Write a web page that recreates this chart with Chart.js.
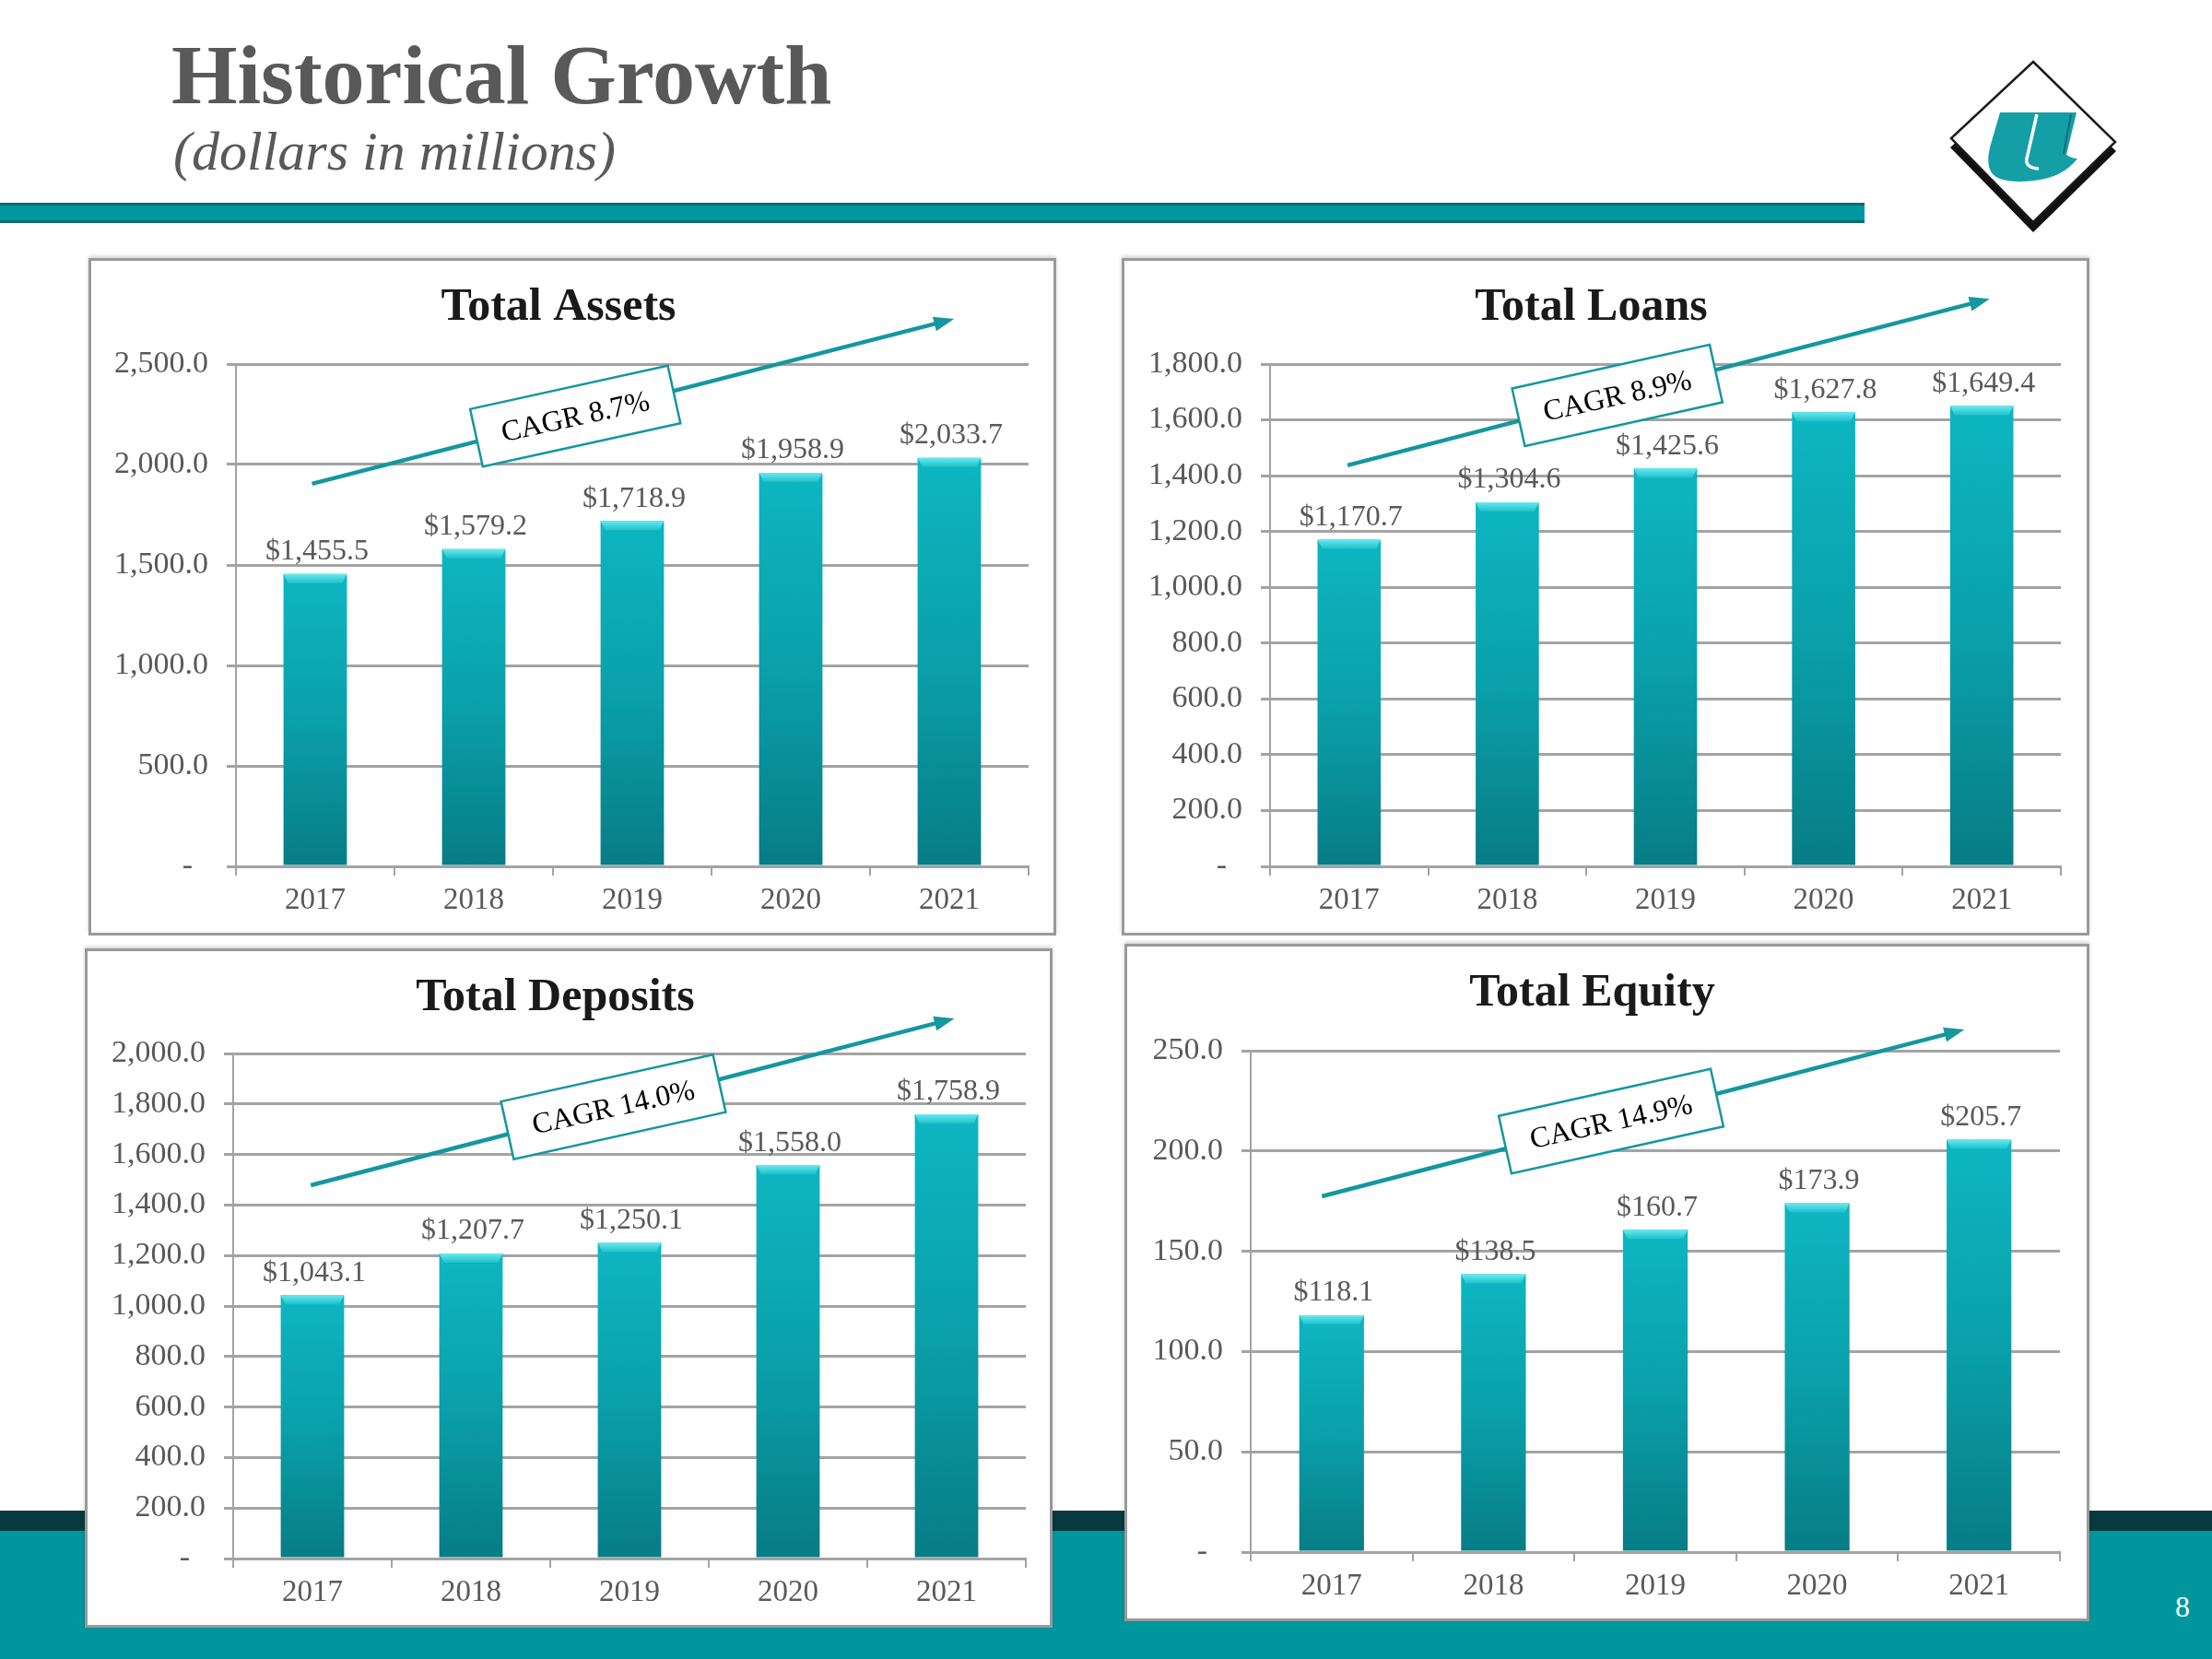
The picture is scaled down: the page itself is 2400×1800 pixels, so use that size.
<!DOCTYPE html>
<html>
<head>
<meta charset="utf-8">
<script src="https://cdn.jsdelivr.net/npm/chart.js@4.4.0/dist/chart.umd.min.js"></script>
<style>
    html, body { margin: 0; padding: 0; background: #fff; }
    body { width: 2400px; height: 1800px; position: relative; overflow: hidden; font-family: "Liberation Serif", "Times New Roman", serif; }
    .head { position: absolute; left: 186px; top: 35px; font-size: 92px; line-height: 92px; font-weight: bold; color: #595959; white-space: nowrap; }
    .sub { position: absolute; left: 188px; top: 134px; font-size: 60px; line-height: 60px; font-style: italic; color: #595959; white-space: nowrap; }
    .rule { position: absolute; left: 0; top: 220px; width: 2023px; height: 16px; background: #00979f; border-top: 3px solid #0a6d73; border-bottom: 3px solid #0a6d73; }
    .band-dark { position: absolute; left: 0; top: 1639px; width: 2400px; height: 22px; background: #063a3e; }
    .band { position: absolute; left: 0; top: 1661px; width: 2400px; height: 139px; background: #00969e; }
    .pagenum { position: absolute; left: 2360px; top: 1727px; font-size: 32px; line-height: 32px; color: #fff; }
    .panel { position: absolute; background: #fff; box-shadow: inset 0 0 0 3px #9a9a9a, 0 -2px 4px rgba(0,0,0,0.18); }
    .panel canvas { position: absolute; left: 0; top: 0; }
    .logo { position: absolute; left: 2100px; top: 50px; }
</style>
</head>
<body>
<div class="head">Historical Growth</div>
<div class="sub">(dollars in millions)</div>
<div class="rule"></div>
<svg class="logo" width="220" height="220" viewBox="0 0 220 220">
    <polygon points="106,28 196,114 106,202 16,110" fill="#111"/>
    <polygon points="106,17 195,104 106,191 17,100" fill="#fff" stroke="#1a1a1a" stroke-width="2.5"/>
    <path d="M70 72 L153 72 L142 118 Q148 122 154 122 Q138 143 106 146 Q68 150 60 136 Q55 126 59 110 Z" fill="#149ea6"/>
    <path d="M110 74 L99 122 Q97 132 112 133" fill="none" stroke="#fff" stroke-width="3.5"/>
    <path d="M147 74 L139 117" fill="none" stroke="#0d6f75" stroke-width="2"/>
</svg>
<div class="band-dark"></div>
<div class="band"></div>
<div class="pagenum">8</div>

<div class="panel" style="left:96px;top:280px;width:1050px;height:735px"><canvas id="assetsChart"></canvas></div>
<div class="panel" style="left:1217px;top:280px;width:1050px;height:735px"><canvas id="loansChart"></canvas></div>
<div class="panel" style="left:92px;top:1029px;width:1050px;height:737px"><canvas id="depositsChart"></canvas></div>
<div class="panel" style="left:1220px;top:1024px;width:1047px;height:735px"><canvas id="equityChart"></canvas></div>

<script>
// values (dollars in millions)
const years = ['2017', '2018', '2019', '2020', '2021'];
const assets = [1455.5, 1579.2, 1718.9, 1958.9, 2033.7];
const loans = [1170.7, 1304.6, 1425.6, 1627.8, 1649.4];
const deposits = [1043.1, 1207.7, 1250.1, 1558.0, 1758.9];
const equity = [118.1, 138.5, 160.7, 173.9, 205.7];

const chartTitles = ['Total Assets', 'Total Loans', 'Total Deposits', 'Total Equity'];
const cagrLabels = ['CAGR 8.7%', 'CAGR 8.9%', 'CAGR 14.0%', 'CAGR 14.9%'];
const axisMax = [2500, 1800, 2000, 250];
const axisStep = [500, 200, 200, 50];

const FONT = '"Liberation Serif", "Times New Roman", serif';
const labelColor = '#595959';
const gridColor = '#a3a3a3';
const teal = '#14979f';

// plot-area placement inside each panel and the CAGR arrow (in axis units)
const layouts = [
    { id: 'assetsChart', w: 1050, h: 735, left: 160, right: 30, top: 115, arrow: [-0.02, 1904, 4.03, 2725, 0.41] },
    { id: 'loansChart', w: 1050, h: 735, left: 161, right: 31, top: 115, arrow: [-0.01, 1437, 4.05, 2034, 0.42] },
    { id: 'depositsChart', w: 1050, h: 737, left: 161, right: 29, top: 114, arrow: [-0.01, 1478, 4.05, 2139, 0.47] },
    { id: 'equityChart', w: 1047, h: 735, left: 137, right: 32, top: 116, arrow: [-0.06, 177.4, 3.91, 260.6, 0.45] }
];
const seriesList = [assets, loans, deposits, equity];

const fmtAxis = v => v === 0 ? '-  ' : v.toLocaleString('en-US', { minimumFractionDigits: 1, maximumFractionDigits: 1 });
const fmtMoney = v => '$' + v.toLocaleString('en-US', { minimumFractionDigits: 1, maximumFractionDigits: 1 });

const barExtras = {
    id: 'barExtras',
    afterDatasetsDraw(chart, args, opts) {
        const { ctx, scales: { x, y } } = chart;
        const meta = chart.getDatasetMeta(0);
        ctx.save();
        meta.data.forEach((bar, i) => {
            const half = bar.width / 2;
            // light bevel on bar top
            const g = ctx.createLinearGradient(0, bar.y, 0, bar.y + 10);
            g.addColorStop(0, '#6ae9f0');
            g.addColorStop(1, '#1cc0ca');
            ctx.fillStyle = g;
            ctx.beginPath();
            ctx.moveTo(bar.x - half, bar.y);
            ctx.lineTo(bar.x + half, bar.y);
            ctx.lineTo(bar.x + half - 5, bar.y + 10);
            ctx.lineTo(bar.x - half + 5, bar.y + 10);
            ctx.closePath();
            ctx.fill();
            // value label
            ctx.fillStyle = labelColor;
            ctx.font = '32px ' + FONT;
            ctx.textAlign = 'center';
            ctx.textBaseline = 'bottom';
            ctx.fillText(fmtMoney(chart.data.datasets[0].data[i]), bar.x + 2, bar.y - 8);
        });

        // CAGR arrow with rotated label box
        const [x0, y0, x1, y1, t] = opts.arrow;
        const p0 = { x: x.getPixelForValue(x0), y: y.getPixelForValue(y0) };
        const p1 = { x: x.getPixelForValue(x1), y: y.getPixelForValue(y1) };
        const ang = Math.atan2(p1.y - p0.y, p1.x - p0.x);
        const head = 22;
        ctx.strokeStyle = teal;
        ctx.fillStyle = teal;
        ctx.lineWidth = 4.5;
        ctx.beginPath();
        ctx.moveTo(p0.x, p0.y);
        ctx.lineTo(p1.x - Math.cos(ang) * head * 0.8, p1.y - Math.sin(ang) * head * 0.8);
        ctx.stroke();
        ctx.beginPath();
        ctx.moveTo(p1.x, p1.y);
        ctx.lineTo(p1.x - head * Math.cos(ang) + 8 * Math.sin(ang), p1.y - head * Math.sin(ang) - 8 * Math.cos(ang));
        ctx.lineTo(p1.x - head * Math.cos(ang) - 8 * Math.sin(ang), p1.y - head * Math.sin(ang) + 8 * Math.cos(ang));
        ctx.closePath();
        ctx.fill();

        const cx = p0.x + (p1.x - p0.x) * t;
        const cy = p0.y + (p1.y - p0.y) * t;
        ctx.translate(cx, cy);
        ctx.rotate(ang * 0.86);
        ctx.font = '32px ' + FONT;
        const bw = ctx.measureText(opts.label).width + 56;
        const bh = 64;
        ctx.fillStyle = '#fff';
        ctx.fillRect(-bw / 2, -bh / 2, bw, bh);
        ctx.lineWidth = 2.5;
        ctx.strokeStyle = teal;
        ctx.strokeRect(-bw / 2, -bh / 2, bw, bh);
        ctx.fillStyle = '#000';
        ctx.textAlign = 'center';
        ctx.textBaseline = 'middle';
        ctx.fillText(opts.label, 0, 2);
        ctx.restore();
    }
};

function barFill(context) {
    const chart = context.chart;
    const area = chart.chartArea;
    if (!area) return '#0aa6b1';
    const top = chart.scales.y.getPixelForValue(context.raw);
    const g = chart.ctx.createLinearGradient(0, top, 0, area.bottom);
    g.addColorStop(0, '#0db6c2');
    g.addColorStop(0.5, '#0aa0aa');
    g.addColorStop(1, '#077c85');
    return g;
}

document.addEventListener('DOMContentLoaded', () => {
    layouts.forEach((lay, k) => {
        const canvas = document.getElementById(lay.id);
        canvas.width = lay.w;
        canvas.height = lay.h;
        new Chart(canvas, {
            type: 'bar',
            data: {
                labels: years,
                datasets: [{
                    data: seriesList[k],
                    backgroundColor: barFill,
                    borderWidth: 0,
                    barPercentage: 0.4,
                    categoryPercentage: 1.0
                }]
            },
            plugins: [barExtras],
            options: {
                responsive: false,
                animation: false,
                devicePixelRatio: 1,
                layout: { padding: { top: 24, right: lay.right, bottom: 0, left: 0 } },
                plugins: {
                    legend: { display: false },
                    tooltip: { enabled: false },
                    title: {
                        display: true,
                        text: chartTitles[k],
                        color: '#1a1a1a',
                        font: { family: FONT, size: 50, weight: 'bold', lineHeight: 1.2 },
                        padding: { top: 0, bottom: lay.top - 24 - 60 }
                    },
                    barExtras: { arrow: layouts[k].arrow, label: cagrLabels[k] }
                },
                scales: {
                    x: {
                        afterFit: s => { s.height = 75; },
                        grid: { display: true, drawOnChartArea: false, drawTicks: true, tickLength: 10, color: gridColor, lineWidth: 2 },
                        border: { display: true, color: gridColor, width: 3 },
                        ticks: { color: labelColor, font: { family: FONT, size: 33 }, padding: 8 }
                    },
                    y: {
                        min: 0,
                        max: axisMax[k],
                        afterFit: s => { s.width = lay.left; },
                        grid: { color: gridColor, lineWidth: 3, tickLength: 10 },
                        border: { display: true, color: gridColor, width: 2 },
                        ticks: {
                            stepSize: axisStep[k],
                            color: labelColor,
                            font: { family: FONT, size: 34 },
                            padding: 20,
                            callback: fmtAxis
                        }
                    }
                }
            }
        });
    });
});
</script>
</body>
</html>
